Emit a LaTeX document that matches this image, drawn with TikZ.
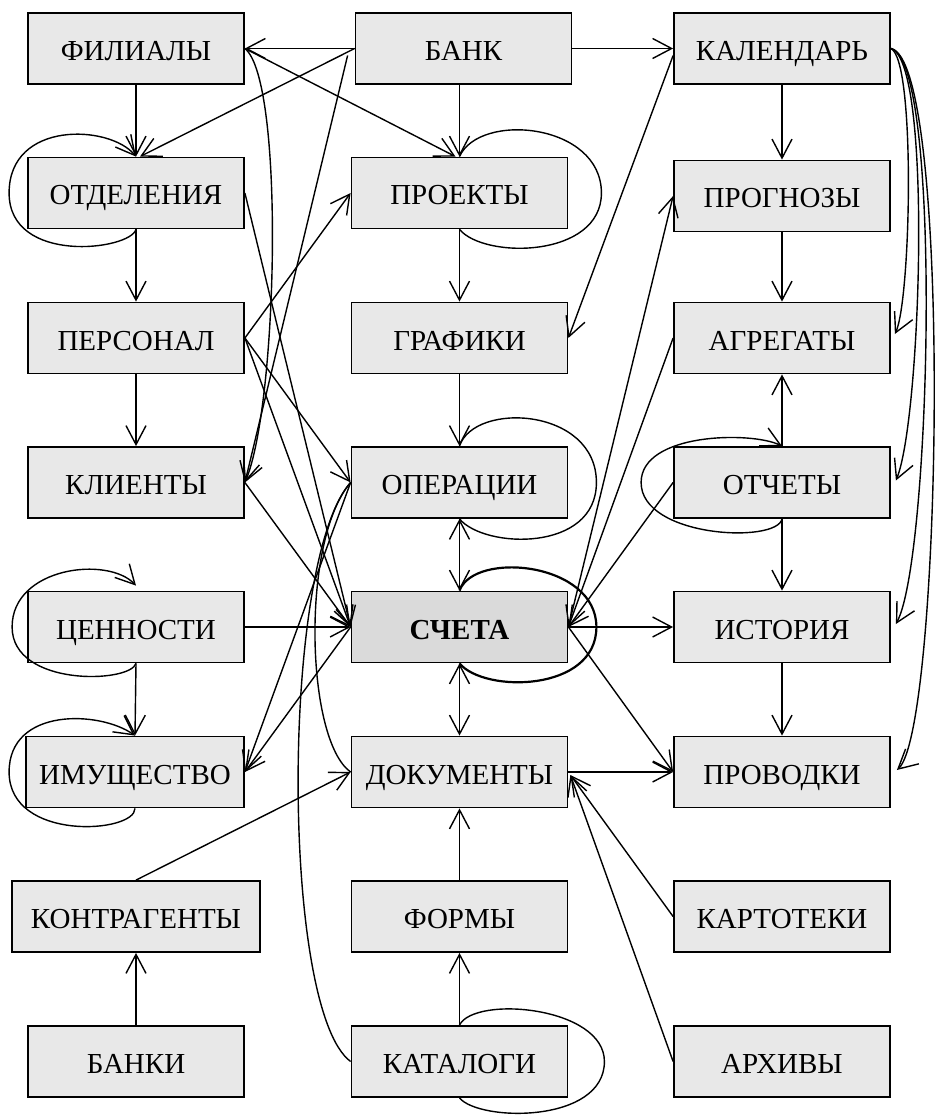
\documentclass[tikz,border=0pt]{standalone}
\usepackage{fontspec}
\setmainfont{Liberation Serif}
\usetikzlibrary{arrows.meta,calc}
\definecolor{boxfill}{RGB}{232,232,232}
\definecolor{keyfill}{RGB}{218,218,218}
\begin{document}
\begin{tikzpicture}[x=1pt,y=-1pt,
  box/.style={draw, line width=1.8pt, fill=boxfill, minimum width=216pt,
    minimum height=71pt, inner sep=0pt, text height=24pt, text depth=0pt,
    font=\fontsize{29}{33}\selectfont},
  conn/.style={line width=1.4pt},
  arr/.style={-{Straight Barb[length=19pt,width=20pt]}},
  arrs/.style={{Straight Barb[length=19pt,width=20pt]}-{Straight Barb[length=19pt,width=20pt]}},
  selfloop/.style={line width=1.4pt},
]
\useasboundingbox (0,0) rectangle (938,1115);

% ---- boxes ----
\node[box] (fil)    at (136,48.5)   {ФИЛИАЛЫ};
\node[box] (bank)   at (463.5,48.5) {БАНК};
\node[box] (kal)    at (782,48.5)   {КАЛЕНДАРЬ};
\node[box] (otd)    at (136,193)    {ОТДЕЛЕНИЯ};
\node[box] (proj)   at (459.5,193)  {ПРОЕКТЫ};
\node[box] (progn)  at (782,196)    {ПРОГНОЗЫ};
\node[box] (pers)   at (136,338)    {ПЕРСОНАЛ};
\node[box] (graf)   at (459.5,338)  {ГРАФИКИ};
\node[box] (agr)    at (782,338)    {АГРЕГАТЫ};
\node[box] (klient) at (136,482.5)  {КЛИЕНТЫ};
\node[box] (oper)   at (459.5,482.5){ОПЕРАЦИИ};
\node[box] (otch)   at (782,482.5)  {ОТЧЕТЫ};
\node[box] (cen)    at (136,627)    {ЦЕННОСТИ};
\node[box, fill=keyfill, font=\fontsize{29}{33}\selectfont\bfseries] (scheta) at (459.5,627) {СЧЕТА};
\node[box] (ist)    at (782,627)    {ИСТОРИЯ};
\node[box, minimum width=218pt] (imu) at (135,772) {ИМУЩЕСТВО};
\node[box] (dok)    at (459.5,772)  {ДОКУМЕНТЫ};
\node[box] (prov)   at (782,772)    {ПРОВОДКИ};
\node[box, minimum width=248pt] (kontr) at (136,916.5) {КОНТРАГЕНТЫ};
\node[box] (form)   at (459.5,916.5){ФОРМЫ};
\node[box] (kart)   at (782,916.5)  {КАРТОТЕКИ};
\node[box] (banki)  at (136,1061.5) {БАНКИ};
\node[box] (katal)  at (459.5,1061.5){КАТАЛОГИ};
\node[box] (arch)   at (782,1061.5) {АРХИВЫ};

% ---- top row ----
\draw[conn,arr] (bank.west) -- (fil.east);
\draw[conn,arr] (bank.east) -- (kal.west);
\draw[conn,arr] ([xshift=-4pt]bank.south) -- (proj.north);
\draw[conn,arr] (fil.south) -- (otd.north);
\draw[conn,arr] (bank.west) -- ($(otd.north)+(4,0)$);
\draw[conn,arr] (fil.east) -- ($(proj.north)+(-4,0)$);
\draw[conn,arr] ($(bank.west)+(-7,7)$) -- (klient.east);
\draw[conn,arr] (fil.east) .. controls +(40,32) and +(33,-78) .. (klient.east);

% ---- left column ----
\draw[conn,arr] (otd.south) -- (pers.north);
\draw[conn,arr] (pers.south) -- (klient.north);
\draw[conn,arr] (cen.south) -- (imu.north);
\draw[conn,arr] (banki.north) -- (kontr.south);
\draw[conn,arr] (pers.east) -- (proj.west);
\draw[conn,arr] (pers.east) -- (oper.west);
\draw[conn,arr] (pers.east) -- (scheta.west);
\draw[conn,arr] (otd.east) -- (scheta.west);
\draw[conn,arr] (klient.east) -- (scheta.west);
\draw[conn,arr] (cen.east) -- (scheta.west);
\draw[conn,arr] (oper.west) -- (imu.east);
\draw[conn,arr] (scheta.west) -- (imu.east);
\draw[conn] (oper.west) .. controls +(-50,58) and +(-45,-32) .. (dok.west);
\draw[conn] (oper.west) .. controls +(-70,78) and +(-70,-52) .. (katal.west);
\draw[conn,arr] (kontr.north) -- (dok.west);

% ---- middle column ----
\draw[conn,arr] (proj.south) -- (graf.north);
\draw[conn,arr] (graf.south) -- (oper.north);
\draw[conn,arrs] (oper.south) -- (scheta.north);
\draw[conn,arrs] (scheta.south) -- (dok.north);
\draw[conn,arr] (form.north) -- (dok.south);
\draw[conn,arr] (katal.north) -- (form.south);

% ---- right column ----
\draw[conn,arr] ($(kal.west)+(0,7)$) -- (graf.east);
\draw[conn,arr] (scheta.east) -- (progn.west);
\draw[conn,arr] (agr.west) -- (scheta.east);
\draw[conn,arr] (otch.west) -- (scheta.east);
\draw[conn,arr] (scheta.east) -- (ist.west);
\draw[conn,arr] (scheta.east) -- (prov.west);
\draw[conn,arr] (dok.east) -- (prov.west);
\draw[conn,arr] (kart.west) -- ($(dok.east)+(2,3)$);
\draw[conn,arr] (arch.west) -- ($(dok.east)+(2,3)$);
\draw[conn,arr] (kal.south) -- (progn.north);
\draw[conn,arr] (progn.south) -- (agr.north);
\draw[conn,arr] (otch.north) -- (agr.south);
\draw[conn,arr] (otch.south) -- (ist.north);
\draw[conn,arr] (ist.south) -- (prov.north);

% ---- calendar links down the right edge ----
\draw[conn,arr] (kal.east) .. controls +(25,12) and +(16,-34) .. ($(agr.east)+(4,-4)$);
\draw[conn,arr] (kal.east) .. controls +(42,12) and +(25,-60) .. ($(otch.east)+(5,-2)$);
\draw[conn,arr] (kal.east) .. controls +(52,12) and +(35,-64) .. ($(ist.east)+(5,-3)$);
\draw[conn,arr] (kal.east) .. controls +(62,12) and +(45,-40) .. ($(prov.east)+(6,-2)$);

% ---- self loops ----
\draw[selfloop,arr] (otd.south) .. controls +(-6,21) and +(0,72) .. ($(otd.west)+(-18,0)$)
   .. controls +(0,-73) and +(-26,-32) .. (otd.north);
\draw[selfloop,arr] (cen.south) .. controls +(-6,20) and +(0,60) .. ($(cen.west)+(-15,0)$)
   .. controls +(0,-60) and +(-28,-30) .. ($(cen.north)+(0,-5)$);
\draw[selfloop,arr] (imu.south) .. controls +(0,25) and +(0,70) .. ($(imu.west)+(-16,0)$)
   .. controls +(0,-65) and +(-35,-25) .. (imu.north);
\draw[selfloop] (proj.north) .. controls +(20,-45) and +(0,-70) .. ($(proj.east)+(33,0)$)
   .. controls +(0,65) and +(25,30) .. (proj.south);
\draw[selfloop] (oper.north) .. controls +(15,-45) and +(0,-75) .. ($(oper.east)+(28,0)$)
   .. controls +(0,70) and +(25,30) .. (oper.south);
\draw[selfloop,line width=2.2pt] (scheta.north) .. controls +(15,-40) and +(0,-65) .. ($(scheta.east)+(28,0)$)
   .. controls +(0,65) and +(25,30) .. (scheta.south);
\draw[selfloop] (katal.north) .. controls +(15,-30) and +(0,-55) .. ($(katal.east)+(36,0)$)
   .. controls +(0,62) and +(20,24) .. (katal.south);
\draw[selfloop,arr] (otch.south) .. controls +(-5,25) and +(0,55) .. ($(otch.west)+(-32,0)$)
   .. controls +(0,-50) and +(-30,-15) .. (otch.north);
\end{tikzpicture}
\end{document}
